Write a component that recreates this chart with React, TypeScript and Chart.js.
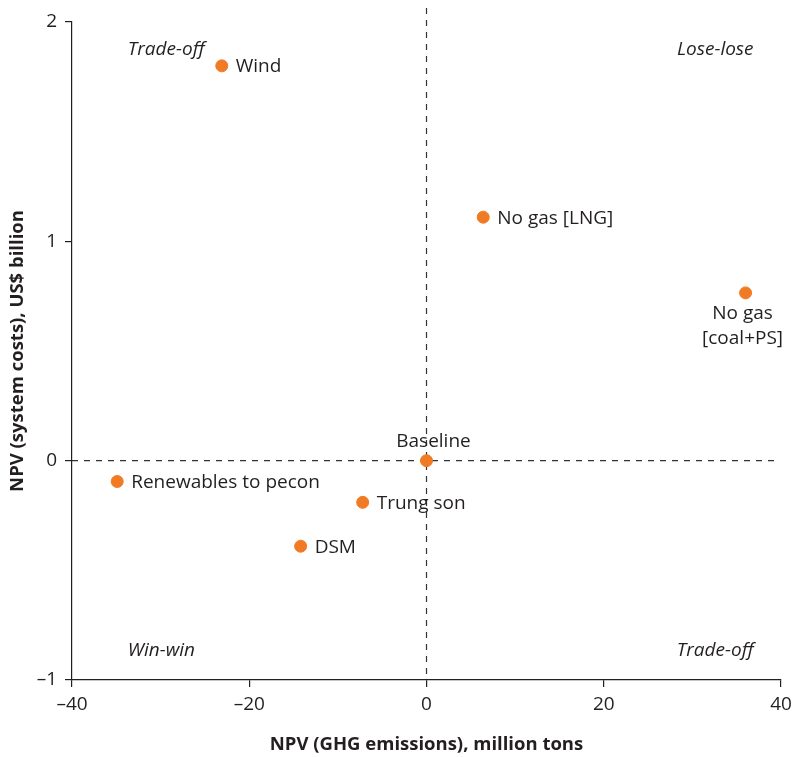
import React, { useEffect, useRef } from "react";
import { Chart, registerables } from "chart.js";

Chart.register(...registerables);

const pointNames = ["Wind", "No gas [LNG]", "No gas\n[coal+PS]", "Baseline", "Renewables to pecon", "Trung son", "DSM"];
const ghgValues = [-23.1, 6.4, 36.0, 0, -34.9, -7.2, -14.2];
const costValues = [1.8, 1.11, 0.765, 0, -0.095, -0.19, -0.39];
const labelPlacement = ["right", "right", "below", "above", "right", "right", "right"];

const quadrantNames = ["Trade-off", "Lose-lose", "Win-win", "Trade-off"];
const quadrantX = [-33.7, 36.9, -33.7, 36.9];
const quadrantY = [1.875, 1.875, -0.865, -0.865];
const quadrantAlign = ["left", "right", "left", "right"];

const xTicks = [-40, -20, 0, 20, 40];
const yTicks = [-1, 0, 1, 2];

const FONT = "'Open Sans', Lato, sans-serif";
const TEXT = "#231f20";
const ORANGE = "#f07b24";

const fmt = (v: number) => (v < 0 ? "\u2013" + Math.abs(v) : String(v));

const overlayPlugin = {
  id: "overlay",
  beforeDatasetsDraw(chart: any) {
    const { ctx, chartArea, scales } = chart;
    const x0 = scales.x.getPixelForValue(0);
    const y0 = scales.y.getPixelForValue(0);
    ctx.save();
    ctx.strokeStyle = "#333";
    ctx.lineWidth = 1.2;
    ctx.setLineDash([6, 6]);
    ctx.beginPath();
    ctx.moveTo(x0, chartArea.top - 14);
    ctx.lineTo(x0, chartArea.bottom);
    ctx.moveTo(chartArea.left, y0);
    ctx.lineTo(chartArea.right - 4, y0);
    ctx.stroke();
    ctx.restore();
  },
  afterDatasetsDraw(chart: any) {
    const { ctx, scales } = chart;
    ctx.save();
    ctx.fillStyle = TEXT;
    ctx.font = `19px ${FONT}`;
    const meta = chart.getDatasetMeta(0);
    meta.data.forEach((pt: any, i: number) => {
      const place = labelPlacement[i];
      const lines = pointNames[i].split("\n");
      ctx.textBaseline = "middle";
      if (place === "right") {
        ctx.textAlign = "left";
        ctx.fillText(lines[0], pt.x + 14, pt.y + 1);
      } else if (place === "above") {
        ctx.textAlign = "center";
        ctx.fillText(lines[0], pt.x + 7, pt.y - 19);
      } else {
        ctx.textAlign = "center";
        lines.forEach((l, k) => ctx.fillText(l, pt.x - 3, pt.y + 21 + k * 25));
      }
    });
    ctx.font = `italic 19px ${FONT}`;
    ctx.textBaseline = "middle";
    quadrantNames.forEach((q, i) => {
      ctx.textAlign = quadrantAlign[i] as CanvasTextAlign;
      ctx.fillText(q, scales.x.getPixelForValue(quadrantX[i]), scales.y.getPixelForValue(quadrantY[i]));
    });
    ctx.restore();
  },
};

export default function App() {
  const ref = useRef<HTMLCanvasElement>(null);
  useEffect(() => {
    if (!ref.current) return;
    const chart = new Chart(ref.current, {
      type: "scatter",
      data: {
        datasets: [
          {
            data: ghgValues.map((x, i) => ({ x, y: costValues[i] })),
            backgroundColor: ORANGE,
            borderColor: ORANGE,
            pointRadius: 6,
            pointHoverRadius: 6,
          },
        ],
      },
      options: {
        responsive: false,
        animation: false,
        events: [],
        layout: { padding: { top: 22, right: 12, left: 0, bottom: 0 } },
        plugins: { legend: { display: false }, tooltip: { enabled: false } },
        scales: {
          x: {
            type: "linear",
            min: -40,
            max: 40,
            afterBuildTicks: (s: any) => {
              s.ticks = xTicks.map((v) => ({ value: v }));
            },
            afterFit: (s: any) => {
              s.height = 77;
              s.paddingLeft = 0;
              s.paddingRight = 0;
            },
            border: { display: true, color: TEXT, width: 1.2 },
            grid: { drawOnChartArea: false, drawTicks: true, tickLength: 7, color: TEXT, lineWidth: 1.2 },
            ticks: { color: TEXT, font: { family: FONT, size: 19 }, padding: 6, callback: (v: any) => fmt(Number(v)) },
            title: {
              display: true,
              text: "NPV (GHG emissions), million tons",
              color: TEXT,
              font: { family: FONT, size: 18.5, weight: "bold" },
              padding: { top: 4, bottom: 1 },
            },
          },
          y: {
            type: "linear",
            min: -1,
            max: 2,
            afterBuildTicks: (s: any) => {
              s.ticks = yTicks.map((v) => ({ value: v }));
            },
            afterFit: (s: any) => {
              s.width = 72;
              s.paddingTop = 0;
              s.paddingBottom = 0;
            },
            border: { display: true, color: TEXT, width: 1.2 },
            grid: { drawOnChartArea: false, drawTicks: true, tickLength: 7, color: TEXT, lineWidth: 1.2 },
            ticks: { color: TEXT, font: { family: FONT, size: 19 }, padding: 8, callback: (v: any) => fmt(Number(v)) },
            title: {
              display: true,
              text: "NPV (system costs), US$ billion",
              color: TEXT,
              font: { family: FONT, size: 18.5, weight: "bold" },
              padding: { top: 7, bottom: 0 },
            },
          },
        },
      },
      plugins: [overlayPlugin],
    } as any);
    return () => chart.destroy();
  }, []);
  return (
    <div style={{ position: "absolute", left: 0, top: 0, width: 793, height: 757 }}>
      <canvas ref={ref} width={793} height={757} style={{ display: "block" }} />
    </div>
  );
}
